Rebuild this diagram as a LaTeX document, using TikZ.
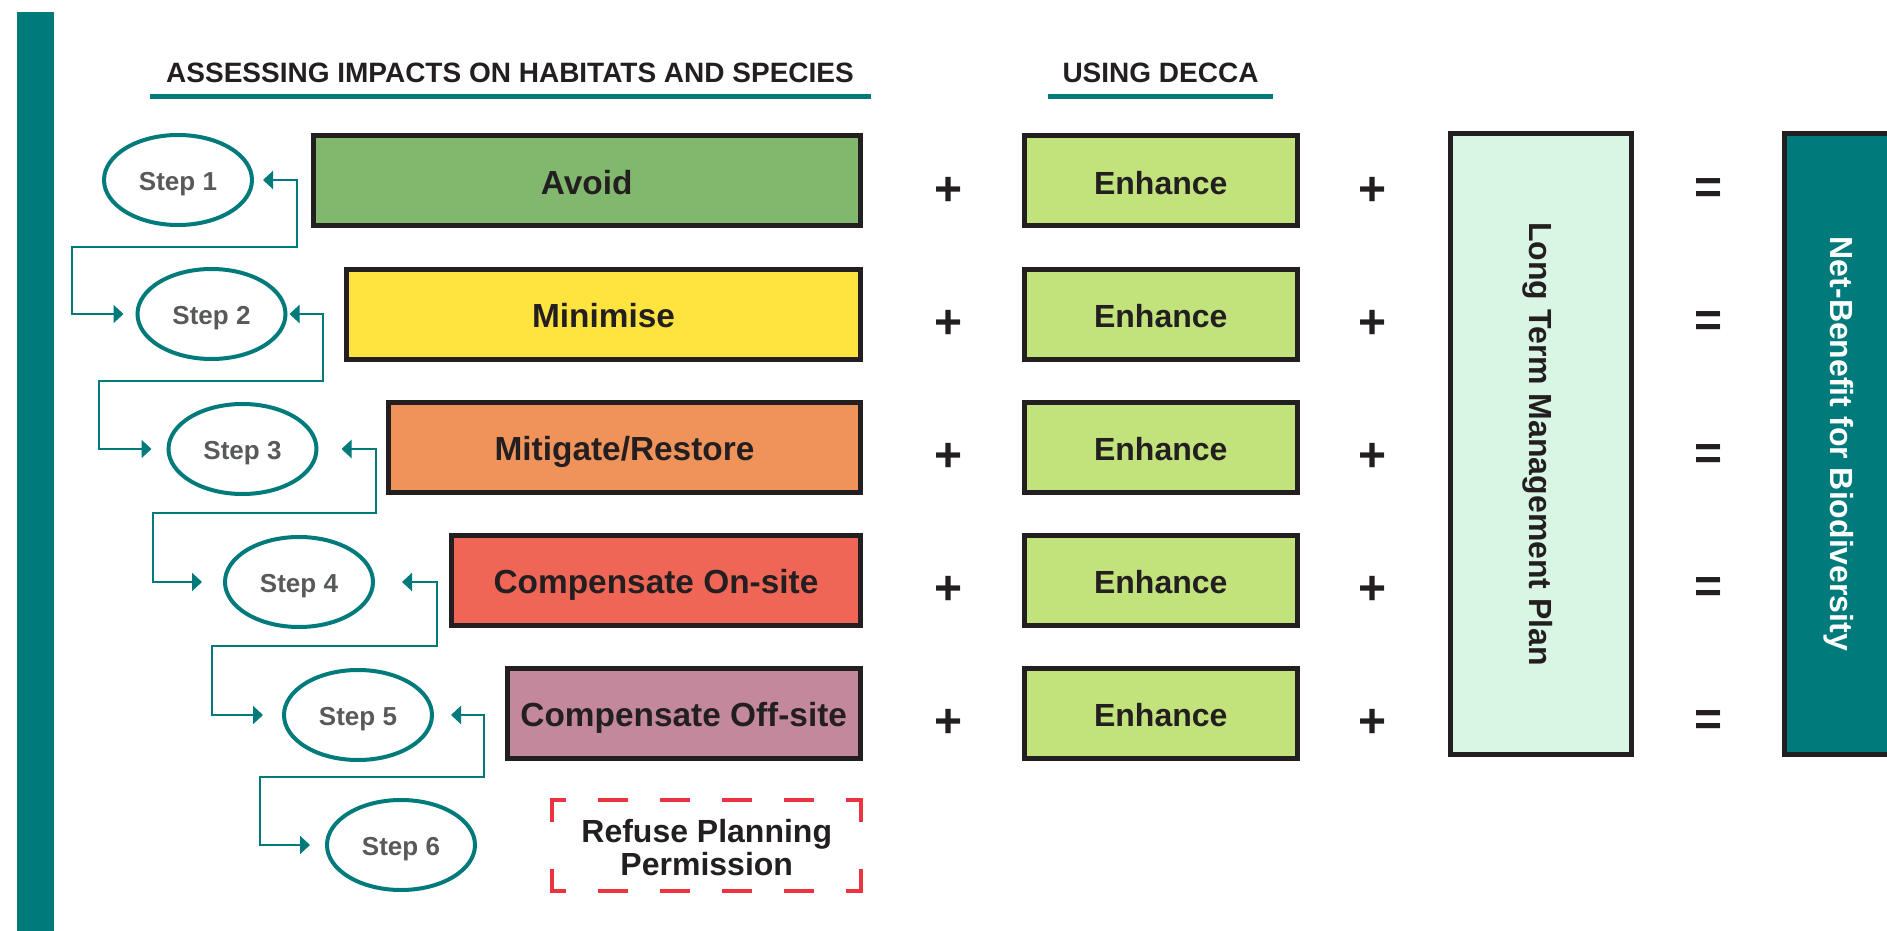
\documentclass[tikz,border=0pt]{standalone}
\usepackage{fontspec}
\setmainfont{Liberation Sans}
\usetikzlibrary{arrows.meta,calc,shapes.geometric}
\definecolor{tealc}{HTML}{007A7A}
\definecolor{boxline}{HTML}{231F20}
\definecolor{stepgray}{HTML}{58595B}
\definecolor{cavoid}{HTML}{82B86E}
\definecolor{cmin}{HTML}{FFE33F}
\definecolor{cmit}{HTML}{EF935A}
\definecolor{conon}{HTML}{F06656}
\definecolor{conoff}{HTML}{C4889D}
\definecolor{cenh}{HTML}{C2E27C}
\definecolor{cltm}{HTML}{D9F5E4}
\definecolor{rdash}{HTML}{EE3340}
\tikzset{
  stepnode/.style={ellipse, draw=tealc, line width=2pt, minimum width=74pt, minimum height=45pt,
    inner sep=0pt, text=stepgray, font=\fontsize{13}{15}\selectfont\bfseries,
    text height=10.8pt, text depth=0pt},
  hbox/.style={draw=boxline, line width=2.5pt, minimum height=45pt, inner sep=0pt,
    text=boxline, font=\fontsize{16.7}{19}\selectfont\bfseries, text height=13.8pt, text depth=0pt},
  ebox/.style={hbox, font=\fontsize{16}{19}\selectfont\bfseries, text height=13.5pt},
  conn/.style={draw=tealc, line width=1.1pt,
    {Triangle[length=5pt,width=9pt]}-{Triangle[length=5pt,width=9pt]}},
  headtxt/.style={text=boxline, inner sep=0pt, font=\fontsize{14}{16}\selectfont\bfseries},
  headline/.style={draw=tealc, line width=2.5pt},
  optxt/.style={text=boxline, inner sep=0pt, font=\fontsize{24}{24}\selectfont\bfseries},
  redside/.style={draw=rdash, line width=2pt, line cap=rect},
}
\begin{document}
\begin{tikzpicture}[x=0.5pt,y=-0.5pt]
\useasboundingbox (0,0) rectangle (1887,931);
% left bar
\fill[tealc] (17,12) rectangle (54,931);
% headers
\node[headtxt] (h1) at (510,73) {ASSESSING IMPACTS ON HABITATS AND SPECIES};
\draw[headline] (150,97) -- (871,97);
\node[headtxt] (h2) at (1160.5,73) {USING DECCA};
\draw[headline] (1048,97) -- (1273,97);
% steps
\node[stepnode] (s1) at (178,180) {Step 1};
\node[stepnode] (s2) at (211.5,314) {Step 2};
\node[stepnode] (s3) at (242.5,449) {Step 3};
\node[stepnode] (s4) at (299,582) {Step 4};
\node[stepnode] (s5) at (358,715) {Step 5};
\node[stepnode] (s6) at (401,845) {Step 6};
% hierarchy boxes
\node[hbox, fill=cavoid, minimum width=273.75pt] (avoid) at (586.75,181) {Avoid};
\node[hbox, fill=cmin, minimum width=257pt] (minimise) at (603.5,314) {Minimise};
\node[hbox, fill=cmit, minimum width=236pt] (mitigate) at (624.5,447) {Mitigate/Restore};
\node[hbox, fill=conon, minimum width=204.5pt] (compon) at (656,580) {Compensate On-site};
\node[hbox, fill=conoff, minimum width=176.75pt] (compoff) at (683.75,713) {Compensate Off-site};
% enhance boxes
\foreach \i/\y in {1/181,2/314,3/447,4/580,5/713}{
  \node[ebox, fill=cenh, minimum width=136.75pt] (e\i) at (1160.75,\y) {Enhance};
  \node[optxt] (pa\i) at (948.5,\y+10) {+};
  \node[optxt] (pb\i) at (1373,\y+10) {+};
  \node[optxt] (eq\i) at (1708.5,\y+10) {=};
}
% long term plan and net benefit
\node[hbox, fill=cltm, rotate=-90, minimum width=310.5pt, minimum height=90.75pt,
  font=\fontsize{16}{19}\selectfont\bfseries, text height=11.5pt] (ltm) at (1540.75,444) {Long Term Management Plan};
\node[hbox, fill=tealc, text=white, rotate=-90, minimum width=310.5pt, minimum height=58pt,
  font=\fontsize{16}{19}\selectfont\bfseries, text height=11.5pt] (net) at (1842,444) {Net-Benefit for Biodiversity};
% refuse
\node[draw=none, minimum width=154.25pt, minimum height=45.5pt, inner sep=0pt, align=center,
  text=boxline, font=\fontsize{16}{16.5}\selectfont\bfseries] (refuse) at (706.75,848) {Refuse Planning\\Permission};
\coordinate (rnw) at ($(refuse.north west)+(0,-2.5)$);
\coordinate (rne) at ($(refuse.north east)+(0,-2.5)$);
\coordinate (rsw) at ($(refuse.south west)+(0,-2.5)$);
\coordinate (rse) at ($(refuse.south east)+(0,-2.5)$);
\draw[redside, dash pattern=on 13pt off 18pt, dash phase=7pt] (rnw) -- (rne);
\draw[redside, dash pattern=on 13pt off 18pt, dash phase=7pt] (rsw) -- (rse);
\draw[redside, dash pattern=on 20pt off 25.5pt, dash phase=10pt] (rnw) -- (rsw);
\draw[redside, dash pattern=on 20pt off 25.5pt, dash phase=10pt] (rne) -- (rse);
% connectors
\draw[conn] ($(s1.east)+(9,0)$) -| (297,247) -- (72,247) |- ($(s2.west)+(-12,0)$);
\draw[conn] ($(s2.east)+(2,0)$) -| (323,381) -- (99,381) |- ($(s3.west)+(-15,0)$);
\draw[conn] ($(s3.east)+(23,0)$) -| (376,513) -- (153,513) |- ($(s4.west)+(-21,0)$);
\draw[conn] ($(s4.east)+(27,0)$) -| (437,646) -- (212,646) |- ($(s5.west)+(-19,0)$);
\draw[conn] ($(s5.east)+(17,0)$) -| (484,777) -- (260,777) |- ($(s6.west)+(-15,0)$);
\end{tikzpicture}
\end{document}
